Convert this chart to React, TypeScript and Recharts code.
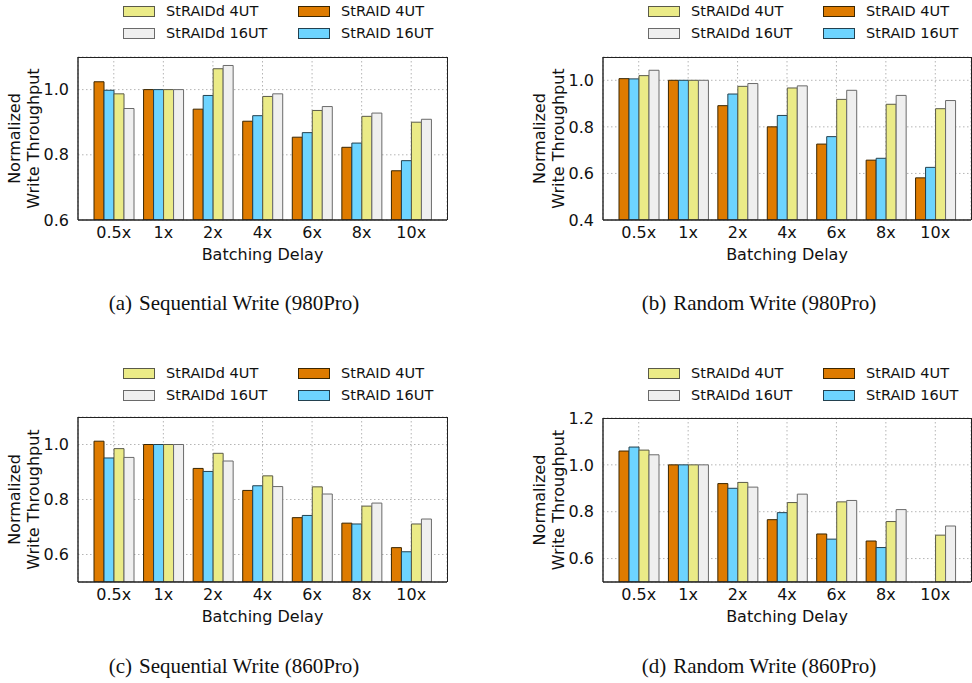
import { BarChart, Bar, XAxis, YAxis, CartesianGrid, Legend } from 'recharts'

const DELAYS = ['0.5x', '1x', '2x', '4x', '6x', '8x', '10x']

// (a) sequential write, 980Pro
const SEQ_980_STRAID_4 = [1.024, 1.0, 0.94, 0.903, 0.854, 0.823, 0.751]
const SEQ_980_STRAID_16 = [0.998, 1.0, 0.982, 0.92, 0.868, 0.836, 0.782]
const SEQ_980_STRAIDD_4 = [0.987, 1.0, 1.064, 0.979, 0.936, 0.918, 0.9]
const SEQ_980_STRAIDD_16 = [0.942, 1.0, 1.074, 0.987, 0.948, 0.928, 0.909]

// (b) random write, 980Pro
const RND_980_STRAID_4 = [1.007, 1.0, 0.891, 0.8, 0.726, 0.657, 0.581]
const RND_980_STRAID_16 = [1.006, 1.0, 0.941, 0.849, 0.758, 0.665, 0.626]
const RND_980_STRAIDD_4 = [1.02, 1.0, 0.974, 0.967, 0.918, 0.897, 0.878]
const RND_980_STRAIDD_16 = [1.043, 1.0, 0.986, 0.976, 0.957, 0.935, 0.913]

// (c) sequential write, 860Pro
const SEQ_860_STRAID_4 = [1.012, 1.0, 0.913, 0.833, 0.734, 0.714, 0.625]
const SEQ_860_STRAID_16 = [0.951, 1.0, 0.902, 0.85, 0.742, 0.711, 0.61]
const SEQ_860_STRAIDD_4 = [0.985, 1.0, 0.968, 0.886, 0.846, 0.776, 0.711]
const SEQ_860_STRAIDD_16 = [0.953, 1.0, 0.94, 0.847, 0.82, 0.787, 0.729]

// (d) random write, 860Pro (StRAID has no 10x run)
const RND_860_STRAID_4 = [1.059, 1.0, 0.92, 0.766, 0.705, 0.675, null]
const RND_860_STRAID_16 = [1.076, 1.0, 0.9, 0.796, 0.683, 0.647, null]
const RND_860_STRAIDD_4 = [1.063, 1.0, 0.925, 0.839, 0.842, 0.758, 0.7]
const RND_860_STRAIDD_16 = [1.043, 1.0, 0.905, 0.875, 0.848, 0.809, 0.739]

const SERIES = [
  { key: 'straid4', name: 'StRAID 4UT', fill: '#DE7B00', stroke: '#3b2600' },
  { key: 'straid16', name: 'StRAID 16UT', fill: '#6DD4FF', stroke: '#23414f' },
  { key: 'straidd4', name: 'StRAIDd 4UT', fill: '#EBEB87', stroke: '#5a5a48' },
  { key: 'straidd16', name: 'StRAIDd 16UT', fill: '#EFEFEF', stroke: '#6a6a6a' },
]
const LEGEND_ORDER = ['straidd4', 'straid4', 'straidd16', 'straid16']

const SANS = '"DejaVu Sans", sans-serif'
const SERIF = '"Liberation Serif", "DejaVu Serif", serif'
const W = 486
const H = 280
const X_AXIS_H = 50

type Val = number | null

function buildRows(a: Val[], b: Val[], c: Val[], d: Val[]) {
  return DELAYS.map((delay, i) => ({ delay, straid4: a[i], straid16: b[i], straidd4: c[i], straidd16: d[i] }))
}

function LegendGrid() {
  return (
    <div style={{ display: 'grid', gridTemplateColumns: '175px 175px', fontFamily: SANS, fontSize: 14.5, color: '#111' }}>
      {LEGEND_ORDER.map(k => {
        const s = SERIES.find(x => x.key === k)!
        return (
          <div key={k} style={{ display: 'flex', alignItems: 'center', height: 22, whiteSpace: 'nowrap' }}>
            <span style={{ display: 'inline-block', width: 30, height: 9, background: s.fill, border: `1px solid ${s.stroke}`, marginRight: 11 }} />
            {s.name}
          </div>
        )
      })}
    </div>
  )
}

function YTitle(props: any) {
  const vb = props.viewBox
  const px = vb.x + vb.width
  const cy = vb.y + vb.height / 2
  return (
    <g fontFamily={SANS} fontSize={16} fill="#111" textAnchor="middle">
      <text x={px - 58} y={cy} transform={`rotate(-90 ${px - 58} ${cy})`}>Normalized</text>
      <text x={px - 39} y={cy} transform={`rotate(-90 ${px - 39} ${cy})`}>Write Throughput</text>
    </g>
  )
}

interface PanelProps {
  rows: any[]
  domain: [number, number]
  ticks: number[]
  left: number
  top: number
  margin: { top: number; right: number; bottom: number; left: number }
  yAxisWidth: number
  legendLeft: number
  legendTop: number
}

function Panel({ rows, domain, ticks, left, top, margin, yAxisWidth, legendLeft, legendTop }: PanelProps) {
  const plotW = W - yAxisWidth - margin.right
  const plotH = H - margin.top - margin.bottom - X_AXIS_H
  return (
    <div style={{ position: 'absolute', left, top, width: W, height: H }}>
      <BarChart width={W} height={H} data={rows} margin={margin} barSize={10} barGap={0}>
        <CartesianGrid stroke="#b5b5b5" strokeDasharray="1.5 2.5" />
        <XAxis
          dataKey="delay"
          height={X_AXIS_H}
          padding={{ left: 11, right: 11 }}
          tickLine={false}
          tickSize={5}
          tickMargin={2}
          axisLine={{ stroke: '#222', strokeWidth: 1.6 }}
          tick={{ fontFamily: SANS, fontSize: 16, fill: '#111' }}
          label={{ value: 'Batching Delay', position: 'insideBottom', offset: 10, fontFamily: SANS, fontSize: 16, fill: '#111' }}
        />
        <YAxis
          width={yAxisWidth}
          domain={domain}
          ticks={ticks}
          allowDataOverflow
          tickLine={false}
          tickSize={6}
          tickMargin={3}
          tickFormatter={(v: number) => v.toFixed(1)}
          axisLine={{ stroke: '#222', strokeWidth: 1.4 }}
          tick={{ fontFamily: SANS, fontSize: 16, fill: '#111' }}
          label={(p: any) => <YTitle {...p} />}
        />
        <Legend
          layout="horizontal"
          verticalAlign="middle"
          align="center"
          content={() => <LegendGrid />}
          wrapperStyle={{ left: legendLeft, top: legendTop, width: 350 }}
        />
        {SERIES.map(s => (
          <Bar key={s.key} dataKey={s.key} name={s.name} fill={s.fill} stroke={s.stroke} strokeWidth={1} isAnimationActive={false} />
        ))}
      </BarChart>
      {/* top and right sides of the plot frame */}
      <div
        style={{
          position: 'absolute',
          left: yAxisWidth,
          top: margin.top - 0.5,
          width: plotW + 0.5,
          height: plotH,
          borderTop: '1px solid #222',
          borderRight: '1px solid #222',
          boxSizing: 'border-box',
          pointerEvents: 'none',
        }}
      />
    </div>
  )
}

function Caption({ tag, text, left, top }: { tag: string; text: string; left: number; top: number }) {
  return (
    <div style={{ position: 'absolute', left, top, width: 468, textAlign: 'center', fontFamily: SERIF, fontSize: 21, lineHeight: '21px', color: '#111', whiteSpace: 'nowrap' }}>
      <span style={{ marginRight: 7 }}>{tag}</span>{text}
    </div>
  )
}

export default function App() {
  return (
    <div style={{ position: 'absolute', left: 0, top: 0, width: 972, height: 683, background: '#fff', overflow: 'hidden' }}>
      <Panel
        rows={buildRows(SEQ_980_STRAID_4, SEQ_980_STRAID_16, SEQ_980_STRAIDD_4, SEQ_980_STRAIDD_16)}
        domain={[0.6, 1.1]} ticks={[0.6, 0.8, 1.0]}
        left={0} top={0} margin={{ top: 57, right: 39, bottom: 10, left: 0 }} yAxisWidth={78}
        legendLeft={123} legendTop={0}
      />
      <Panel
        rows={buildRows(RND_980_STRAID_4, RND_980_STRAID_16, RND_980_STRAIDD_4, RND_980_STRAIDD_16)}
        domain={[0.4, 1.1]} ticks={[0.4, 0.6, 0.8, 1.0]}
        left={486} top={0} margin={{ top: 57, right: 1, bottom: 10, left: 0 }} yAxisWidth={117}
        legendLeft={162} legendTop={0}
      />
      <Panel
        rows={buildRows(SEQ_860_STRAID_4, SEQ_860_STRAID_16, SEQ_860_STRAIDD_4, SEQ_860_STRAIDD_16)}
        domain={[0.5, 1.1]} ticks={[0.6, 0.8, 1.0]}
        left={0} top={360} margin={{ top: 57, right: 39, bottom: 8, left: 0 }} yAxisWidth={78}
        legendLeft={123} legendTop={2}
      />
      <Panel
        rows={buildRows(RND_860_STRAID_4, RND_860_STRAID_16, RND_860_STRAIDD_4, RND_860_STRAIDD_16)}
        domain={[0.5, 1.2]} ticks={[0.6, 0.8, 1.0, 1.2]}
        left={486} top={360} margin={{ top: 58, right: 1, bottom: 8, left: 0 }} yAxisWidth={117}
        legendLeft={162} legendTop={2}
      />
      <Caption tag="(a)" text="Sequential Write (980Pro)" left={0} top={293} />
      <Caption tag="(b)" text="Random Write (980Pro)" left={525} top={293} />
      <Caption tag="(c)" text="Sequential Write (860Pro)" left={0} top={656} />
      <Caption tag="(d)" text="Random Write (860Pro)" left={525} top={656} />
    </div>
  )
}
